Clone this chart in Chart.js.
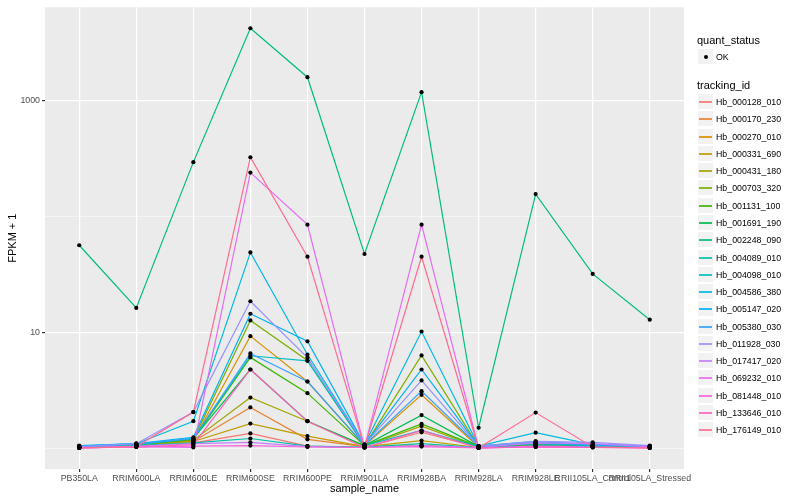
<!DOCTYPE html>
<html lang="en">
<head>
<meta charset="UTF-8">
<title>FPKM + 1 by sample</title>
<script src="https://cdn.jsdelivr.net/npm/chart.js"></script>
<style>
  body { margin: 0; background: #fff; font-family: "Liberation Sans", Arial, sans-serif; }
  #wrap { position: relative; width: 800px; height: 500px; }
  #legend { position: absolute; left: 697px; top: 0; color: #000; }
  .lg-title { position: absolute; left: 0; font-size: 11px; line-height: 13px; white-space: nowrap; }
  .lg-key { position: absolute; left: 0; width: 17px; height: 17px; background: #f2f2f2; box-sizing: border-box; border: 1px solid #fff; }
  .lg-line { position: absolute; left: 1px; right: 1px; top: 7px; height: 2px; opacity: 0.85; }
  .lg-dot { position: absolute; left: 5.5px; top: 5.5px; width: 4px; height: 4px; border-radius: 50%; background: #000; }
  .lg-label { position: absolute; left: 19px; font-size: 8.8px; line-height: 10px; white-space: nowrap; }
</style>
</head>
<body>
<div id="wrap">
  <canvas id="chart" width="800" height="500"></canvas>
  <div id="legend"></div>
</div>

<script>
// samples on the x axis
const samples = ['PB350LA', 'RRIM600LA', 'RRIM600LE', 'RRIM600SE', 'RRIM600PE', 'RRIM901LA',
                 'RRIM928BA', 'RRIM928LA', 'RRIM928LE', 'RRII105LA_Control', 'RRII105LA_Stressed'];

const trackingIds = ['Hb_000128_010', 'Hb_000170_230', 'Hb_000270_010', 'Hb_000331_690', 'Hb_000431_180',
                     'Hb_000703_320', 'Hb_001131_100', 'Hb_001691_190', 'Hb_002248_090', 'Hb_004089_010',
                     'Hb_004098_010', 'Hb_004586_380', 'Hb_005147_020', 'Hb_005380_030', 'Hb_011928_030',
                     'Hb_017417_020', 'Hb_069232_010', 'Hb_081448_010', 'Hb_133646_010', 'Hb_176149_010'];

const colors = ['#F8766D', '#EA8331', '#D89000', '#C09B00', '#A3A500', '#7CAE00', '#39B600', '#00BB4E',
                '#00BF7D', '#00C1A3', '#00BFC4', '#00BAE0', '#00B0F6', '#35A2FF', '#9590FF', '#C77CFF',
                '#E76BF3', '#FA62DB', '#FF62BC', '#FF6C91'];

// FPKM + 1, one value per sample
const hb_000128_010 = [1.02, 1.05, 1.12, 1.35, 1.05, 1.02, 1.38, 1.02, 1.06, 1.04, 1.02];
const hb_000170_230 = [1.02, 1.06, 1.15, 2.26, 1.20, 1.04, 1.06, 1.02, 1.05, 1.04, 1.02];
const hb_000270_010 = [1.03, 1.08, 1.18, 9.3, 3.78, 1.06, 2.90, 1.03, 1.08, 1.05, 1.03];
const hb_000331_690 = [1.02, 1.06, 1.15, 1.64, 1.28, 1.04, 1.17, 1.02, 1.06, 1.04, 1.02];
const hb_000431_180 = [1.02, 1.07, 1.18, 2.75, 1.72, 1.05, 1.56, 1.03, 1.08, 1.05, 1.03];
const hb_000703_320 = [1.03, 1.08, 1.20, 12.7, 5.74, 1.06, 6.34, 1.04, 1.10, 1.06, 1.03];
const hb_001131_100 = [1.03, 1.08, 1.20, 6.1, 3.0, 1.06, 1.63, 1.04, 1.10, 1.06, 1.03];
const hb_001691_190 = [1.03, 1.08, 1.22, 4.8, 1.72, 1.06, 1.94, 1.04, 1.10, 1.06, 1.03];
const hb_002248_090 = [56.5, 16.3, 294, 4190, 1586, 47.5, 1179, 1.51, 156, 32.0, 12.9];
const hb_004089_010 = [1.03, 1.06, 1.12, 1.22, 1.05, 1.03, 1.10, 1.02, 1.06, 1.04, 1.02];
const hb_004098_010 = [1.04, 1.08, 1.22, 6.3, 5.7, 1.06, 1.43, 1.04, 1.10, 1.06, 1.04];
const hb_004586_380 = [1.05, 1.10, 1.72, 49, 6.46, 1.08, 10.2, 1.05, 1.37, 1.08, 1.05];
const hb_005147_020 = [1.06, 1.10, 1.25, 14.5, 8.4, 1.08, 4.8, 1.05, 1.15, 1.08, 1.05];
const hb_005380_030 = [1.05, 1.09, 1.22, 6.6, 3.78, 1.07, 3.12, 1.05, 1.12, 1.08, 1.05];
const hb_011928_030 = [1.04, 1.10, 2.06, 18.6, 6.08, 1.08, 3.86, 1.05, 1.15, 1.13, 1.06];
const hb_017417_020 = [1.02, 1.05, 1.10, 1.13, 1.04, 1.02, 1.06, 1.02, 1.12, 1.10, 1.04];
const hb_069232_010 = [1.01, 1.04, 1.02, 239, 85, 1.03, 85, 1.01, 1.05, 1.03, 1.02];
const hb_081448_010 = [1.01, 1.03, 1.05, 1.06, 1.03, 1.02, 1.04, 1.01, 1.03, 1.02, 1.01];
const hb_133646_010 = [1.01, 1.03, 1.08, 4.8, 1.72, 1.02, 1.43, 1.01, 1.03, 1.02, 1.01];
const hb_176149_010 = [1.01, 1.04, 2.06, 324, 45, 1.02, 45, 1.01, 2.04, 1.03, 1.01];

const series = [hb_000128_010, hb_000170_230, hb_000270_010, hb_000331_690, hb_000431_180,
                hb_000703_320, hb_001131_100, hb_001691_190, hb_002248_090, hb_004089_010,
                hb_004098_010, hb_004586_380, hb_005147_020, hb_005380_030, hb_011928_030,
                hb_017417_020, hb_069232_010, hb_081448_010, hb_133646_010, hb_176149_010];

const yBreaks = [1, 10, 100, 1000];
const yLabelled = [10, 1000];

// ggplot style 5% expansion on the log scale
const allVals = series.flat();
const lo = Math.log10(Math.min(...allVals));
const hi = Math.log10(Math.max(...allVals));
const pad = (hi - lo) * 0.05;

const datasets = series.map((vals, i) => ({
    label: trackingIds[i],
    data: vals.map((v, j) => ({ x: j, y: v })),
    borderColor: colors[i],
    borderWidth: 1.2,
    pointRadius: 0,
    tension: 0,
    fill: false,
    order: series.length - i
}));

// black points on top of all lines
datasets.push({
    label: 'OK',
    data: series.flatMap(vals => vals.map((v, j) => ({ x: j, y: v }))),
    showLine: false,
    pointRadius: 2.1,
    pointBackgroundColor: '#000',
    pointBorderWidth: 0,
    order: 0
});

const panelBg = {
    id: 'panelBg',
    beforeDraw(chart) {
        const { ctx, chartArea: a } = chart;
        ctx.save();
        ctx.fillStyle = '#ebebeb';
        ctx.fillRect(a.left, a.top, a.width, a.height);
        ctx.restore();
    }
};

const isMajor = c => c.tick && yLabelled.includes(c.tick.value);

new Chart(document.getElementById('chart'), {
    type: 'line',
    data: { datasets },
    plugins: [panelBg],
    options: {
        responsive: false,
        animation: false,
        layout: { padding: { top: 5, right: 116, bottom: 0, left: 0 } },
        plugins: { legend: { display: false }, tooltip: { enabled: false } },
        scales: {
            x: {
                type: 'linear',
                bounds: 'data',
                min: -0.6,
                max: samples.length - 1 + 0.6,
                afterBuildTicks: s => { s.ticks = samples.map((_, i) => ({ value: i })); },
                afterFit: s => { s.height = 31; },
                border: { display: false },
                grid: { color: '#ffffff', lineWidth: 1.2, tickColor: '#333333', tickLength: 3 },
                ticks: {
                    autoSkip: false, maxRotation: 0, padding: 1,
                    color: '#4d4d4d', font: { size: 8.8 },
                    callback: v => samples[v]
                },
                title: {
                    display: true, text: 'sample_name', color: '#000',
                    font: { size: 11 }, padding: { top: 0, bottom: 4.8 }
                }
            },
            y: {
                type: 'logarithmic',
                bounds: 'data',
                min: Math.pow(10, lo - pad),
                max: Math.pow(10, hi + pad),
                afterBuildTicks: s => { s.ticks = yBreaks.map(v => ({ value: v })); },
                afterFit: s => { s.width = 45; },
                border: { display: false },
                grid: {
                    color: c => isMajor(c) ? '#ffffff' : 'rgba(255,255,255,0.75)',
                    lineWidth: c => isMajor(c) ? 1.2 : 0.6,
                    tickColor: c => isMajor(c) ? '#333333' : 'rgba(0,0,0,0)',
                    tickLength: 3
                },
                ticks: {
                    padding: 2, color: '#4d4d4d', font: { size: 8.8 },
                    callback: v => yLabelled.includes(v) ? String(v) : ''
                },
                title: {
                    display: true, text: 'FPKM + 1', color: '#000',
                    font: { size: 11 }, padding: { top: 6.5, bottom: 0 }
                }
            }
        },
        font: { family: '"Liberation Sans", Arial, sans-serif' }
    }
});

// legend, built from the same arrays
const legend = document.getElementById('legend');
let html = '<div class="lg-title" style="top:33.5px">quant_status</div>';
html += '<div class="lg-key" style="top:48px"><div class="lg-dot"></div></div>';
html += '<div class="lg-label" style="top:51.5px">OK</div>';
html += '<div class="lg-title" style="top:78.5px">tracking_id</div>';
trackingIds.forEach((id, i) => {
    const top = Math.round(93 + i * 17.28);
    html += `<div class="lg-key" style="top:${top}px"><div class="lg-line" style="background:${colors[i]}"></div></div>`;
    html += `<div class="lg-label" style="top:${top + 3.5}px">${id}</div>`;
});
legend.innerHTML = html;
</script>
</body>
</html>
